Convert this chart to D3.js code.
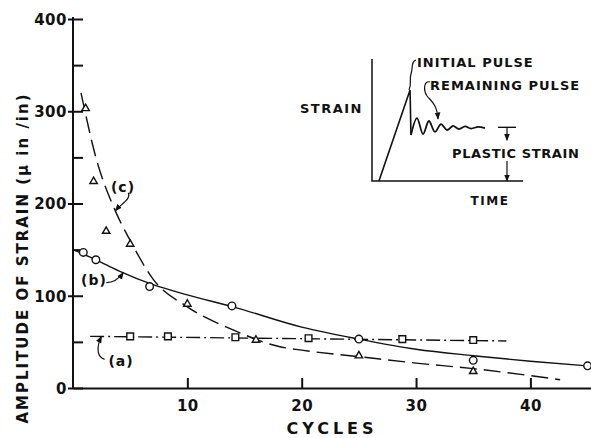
<!DOCTYPE html>
<html>
<head>
<meta charset="utf-8">
<title>Amplitude of strain vs cycles</title>
<style>
body { margin: 0; background: #fff; }
svg text { font-family: "DejaVu Sans", sans-serif; font-weight: bold; fill: #111; }
.axis path, .axis line { stroke: #111; stroke-width: 2; }
.axis text { font-size: 15px; font-family: "DejaVu Sans", sans-serif; font-weight: bold; fill: #111; }
.curve { fill: none; stroke: #111; stroke-width: 1.4; }
.mark { fill: #fff; stroke: #111; stroke-width: 1.4; }
.lead { fill: none; stroke: #111; stroke-width: 1.2; }
</style>
<script src="https://cdn.jsdelivr.net/npm/d3@7"></script>
</head>
<body>
<script>
// points: [cycles, strain]
var pointsA = [[5, 56], [8.3, 56], [14.2, 55], [20.6, 54], [28.8, 53], [35, 52]];
var pointsB = [[0.9, 147], [2, 139], [6.7, 110], [13.9, 89], [25, 53], [35, 30], [45, 24]];
var pointsC = [[1.1, 303], [1.8, 224], [2.9, 170], [5, 156], [10, 91], [16, 52], [25, 35], [35, 18]];

// faired curves
var curveA = [[1.5, 56], [37.9, 51]];
var curveB = [[0, 150], [2, 139], [4, 127], [7, 112], [10, 101], [14, 88], [20, 66], [25, 53], [30, 42], [35, 35], [40, 29], [45, 24]];
var curveC = [[0.7, 320], [2, 250], [3.7, 192], [5, 160], [7, 118], [10, 88], [14, 63], [18, 45], [20, 41], [25, 34], [30, 27], [35, 21], [42.6, 9]];

var xTicks = [10, 20, 30, 40];
var yMajor = [0, 100, 200, 300, 400];
var yMinor = [0, 50, 100, 150, 200, 250, 300, 350, 400];

// inset sketch: [time, strain], arbitrary units 0..10
var ramp = [[0.46, 0], [2.52, 7.46], [2.58, 3.77]];
var ringing = [[2.58, 3.77], [2.98, 5.16], [3.38, 3.85], [3.77, 4.92], [4.17, 4.02], [4.57, 4.67], [4.97, 4.18],
               [5.36, 4.51], [5.76, 4.26], [6.16, 4.47], [6.56, 4.30], [7.02, 4.43], [7.48, 4.34]];

var W = 591, H = 438;
var svg = d3.select("body").append("svg").attr("width", W).attr("height", H);

var defs = svg.append("defs");
defs.append("marker").attr("id", "arr")
    .attr("viewBox", "0 0 10 10").attr("refX", 9).attr("refY", 5)
    .attr("markerWidth", 6).attr("markerHeight", 6).attr("orient", "auto")
    .append("path").attr("d", "M0,1 L10,5 L0,9 Z").attr("fill", "#111");

var x = d3.scaleLinear().domain([0, 45.3]).range([73, 591]);
var y = d3.scaleLinear().domain([0, 400]).range([388, 19]);

// axes
svg.append("g").attr("class", "axis").attr("transform", "translate(73,0)")
   .call(d3.axisRight(y).tickValues(yMinor).tickSize(10).tickSizeOuter(0).tickFormat(""))
   .select(".domain").attr("d", "M0," + (y(400) - 2) + "V" + y(0));
svg.append("g").attr("class", "axis").attr("transform", "translate(73,0)")
   .call(d3.axisLeft(y).tickValues(yMajor).tickSize(5).tickPadding(1).tickSizeOuter(0))
   .call(function(g) { g.select(".domain").remove(); })
   .selectAll("text").attr("dy", "0.36em").style("letter-spacing", "0.5px");
svg.append("g").attr("class", "axis").attr("transform", "translate(0," + y(0) + ")")
   .call(d3.axisTop(x).tickValues(xTicks).tickSize(10).tickSizeOuter(0).tickFormat(""));
svg.append("g").attr("class", "axis").attr("transform", "translate(0," + y(0) + ")")
   .call(d3.axisBottom(x).tickValues(xTicks).tickSize(0).tickPadding(12))
   .call(function(g) { g.select(".domain").remove(); })
   .selectAll("text").style("letter-spacing", "0.5px");

svg.append("text").attr("x", 332).attr("y", 434).attr("text-anchor", "middle")
   .style("font-size", "16px").style("letter-spacing", "4px").text("CYCLES");
svg.append("text").attr("transform", "translate(28,258) rotate(-90)").attr("text-anchor", "middle")
   .style("font-size", "15px").style("letter-spacing", "2px")
   .text("AMPLITUDE OF STRAIN  (\u03bc in /in)");

// curves
var line = d3.line().x(function(d) { return x(d[0]); }).y(function(d) { return y(d[1]); });
svg.append("path").datum(curveA).attr("class", "curve").attr("d", line)
   .attr("stroke-dasharray", "14,4,2,4");
svg.append("path").datum(curveB).attr("class", "curve").attr("d", line.curve(d3.curveMonotoneX));
svg.append("path").datum(curveC).attr("class", "curve").attr("d", line.curve(d3.curveMonotoneX))
   .attr("stroke-dasharray", "17,7");

// markers
svg.selectAll(".sq").data(pointsA).enter().append("path").attr("class", "mark")
   .attr("d", d3.symbol(d3.symbolSquare, 45))
   .attr("transform", function(d) { return "translate(" + x(d[0]) + "," + y(d[1]) + ")"; });
svg.selectAll(".ci").data(pointsB).enter().append("circle").attr("class", "mark")
   .attr("r", 3.8).attr("cx", function(d) { return x(d[0]); }).attr("cy", function(d) { return y(d[1]); });
svg.selectAll(".tr").data(pointsC).enter().append("path").attr("class", "mark")
   .attr("d", d3.symbol(d3.symbolTriangle, 24))
   .attr("transform", function(d) { return "translate(" + x(d[0]) + "," + y(d[1]) + ")"; });

// curve labels with leaders
function label(t, cx, cy, lx, ly, lead) {
  svg.append("text").attr("x", lx).attr("y", ly).attr("text-anchor", "middle")
     .style("font-size", "14px").style("letter-spacing", "1px").text(t);
  svg.append("path").attr("class", "lead").attr("marker-end", "url(#arr)")
     .attr("transform", "translate(" + x(cx) + "," + y(cy) + ")").attr("d", lead);
}
label("(c)", 3.7, 192, 123, 192, "M13,-18 C16,-12 6,-7 0,0");
label("(b)", 4.4, 125, 94, 285, "M-17,10 C-10,10 -5,7 0,0");
label("(a)", 2.5, 56, 121, 366, "M3,23 C-4,21 -6,12 0,0");

// inset sketch
var ix = d3.scaleLinear().domain([0, 10]).range([372, 523]);
var iy = d3.scaleLinear().domain([0, 10]).range([181, 59]);
var iline = d3.line().x(function(d) { return ix(d[0]); }).y(function(d) { return iy(d[1]); });
var inset = svg.append("g");
inset.append("path").attr("class", "curve").style("stroke-width", 1.5)
     .attr("d", "M" + ix(0) + "," + iy(10) + "V" + iy(0) + "H" + ix(10));
inset.append("path").datum(ramp).attr("class", "curve").style("stroke-width", 1.6)
     .attr("d", iline);
inset.append("path").datum(ringing).attr("class", "curve").style("stroke-width", 1.8)
     .attr("d", iline.curve(d3.curveCatmullRom));
inset.append("text").attr("x", ix(0) - 9).attr("y", 113).attr("text-anchor", "end")
     .style("font-size", "13px").style("letter-spacing", "1.5px").text("STRAIN");
inset.append("text").attr("x", 490).attr("y", 205).attr("text-anchor", "middle")
     .style("font-size", "12px").style("letter-spacing", "1.5px").text("TIME");
inset.append("text").attr("x", 417).attr("y", 67)
     .style("font-size", "13px").style("letter-spacing", "1px").text("INITIAL PULSE");
inset.append("text").attr("x", 430).attr("y", 90)
     .style("font-size", "13px").style("letter-spacing", "1px").text("REMAINING PULSE");
inset.append("text").attr("x", 452).attr("y", 158)
     .style("font-size", "13px").style("letter-spacing", "0.6px").text("PLASTIC STRAIN");
inset.append("path").attr("class", "lead")
     .attr("d", "M416,60 C411,61 413,68 411,74 C409,80 412,84 409,90");
inset.append("path").attr("class", "lead").attr("marker-end", "url(#arr)")
     .attr("d", "M430,82 C424,80 423,90 427,96 C431,101 437,104 438,119");
// plastic strain dimension
var bx = ix(8.94);
inset.append("path").attr("class", "curve").attr("d", "M" + (bx - 9) + "," + iy(4.4) + "H" + (bx + 9));
inset.append("path").attr("class", "lead").attr("marker-end", "url(#arr)")
     .attr("d", "M" + bx + "," + iy(4.4) + "V" + (iy(4.4) + 13));
inset.append("path").attr("class", "lead").attr("marker-end", "url(#arr)")
     .attr("d", "M" + bx + ",161V" + iy(0));
</script>
</body>
</html>
